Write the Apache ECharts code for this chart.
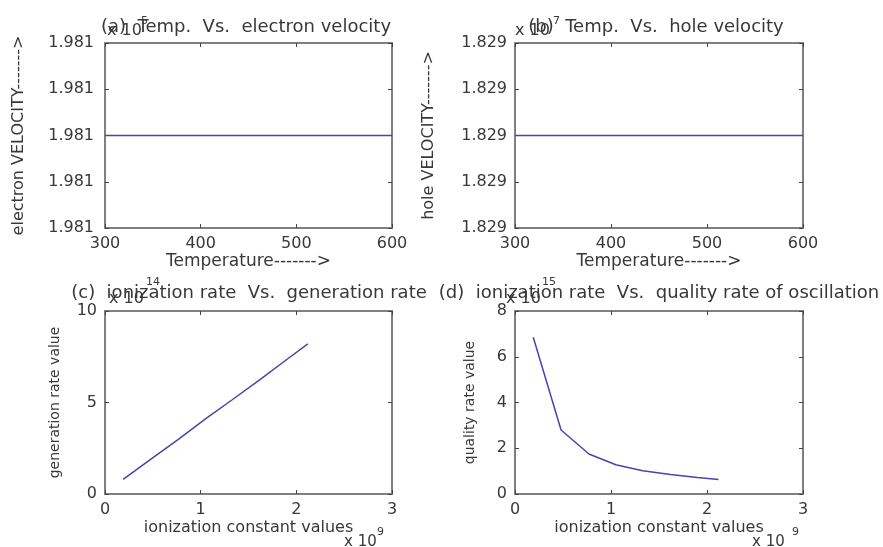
<!DOCTYPE html>
<html>
<head>
<meta charset="utf-8">
<script src="https://cdn.jsdelivr.net/npm/echarts@6/dist/echarts.min.js"></script>
<style>
  html, body { margin: 0; padding: 0; background: #fff; }
  #chart { width: 883px; height: 547px; }
</style>
</head>
<body>
<div id="chart"></div>
<script>
// (a), (b): temperature sweep, velocities in cm/s (constant)
const temperature = [300, 350, 400, 450, 500, 550, 600];
const electronVelocity = [198100, 198100, 198100, 198100, 198100, 198100, 198100];
const holeVelocity = [18290000, 18290000, 18290000, 18290000, 18290000, 18290000, 18290000];

// (c), (d): ionization constant (x10^9), generation rate (x10^14), quality rate (x10^15)
const ionizationConst = [0.19, 0.48, 0.77, 1.05, 1.33, 1.62, 1.90, 2.12];
const generationRate = [0.8, 1.9, 3.0, 4.1, 5.15, 6.25, 7.35, 8.2];
const qualityRate = [6.85, 2.8, 1.75, 1.28, 1.02, 0.85, 0.72, 0.63];

// axis ranges [min, max, interval]
const tempRange = [300, 600, 100];
const electronRange = [198098, 198102, 1];
const holeRange = [18289998, 18290002, 1];
const ionRange = [0, 3, 1];
const genRange = [0, 10, 5];
const qualRange = [0, 8, 2];

const FONT = 'DejaVu Sans';
const TXT = '#383838';
const LINE = '#4646aa';

const chart = echarts.init(document.getElementById('chart'));

function pairs(xs, ys) {
  return xs.map((x, i) => [x, ys[i]]);
}

function xAxes(grid, range, name, nameGap, nameSize) {
  const base = {
    gridIndex: grid, type: 'value',
    min: range[0], max: range[1], interval: range[2],
    axisLine: { show: true, onZero: false, lineStyle: { color: '#808080', width: 2 } },
    axisTick: { show: true, inside: true, length: 4, lineStyle: { color: '#444' } },
    splitLine: { show: false }
  };
  return [
    Object.assign({}, base, {
      position: 'bottom',
      axisLabel: { margin: 8, fontSize: 16, color: TXT, fontFamily: FONT, showMinLabel: true, showMaxLabel: true },
      name: name, nameLocation: 'middle', nameGap: nameGap,
      nameTextStyle: { fontSize: nameSize, color: TXT, fontFamily: FONT }
    }),
    Object.assign({}, base, { position: 'top', axisLabel: { show: false } })
  ];
}

function yAxes(grid, range, name, nameGap, nameSize, margin, fmt) {
  const base = {
    gridIndex: grid, type: 'value',
    min: range[0], max: range[1], interval: range[2],
    axisLine: { show: true, onZero: false, lineStyle: { color: '#808080', width: 2 } },
    axisTick: { show: true, inside: true, length: 4, lineStyle: { color: '#444' } },
    splitLine: { show: false }
  };
  return [
    Object.assign({}, base, {
      position: 'left',
      axisLabel: { margin: margin, fontSize: 16, color: TXT, fontFamily: FONT, formatter: fmt, showMinLabel: true, showMaxLabel: true },
      name: name, nameLocation: 'middle', nameGap: nameGap,
      nameTextStyle: { fontSize: nameSize, color: TXT, fontFamily: FONT }
    }),
    Object.assign({}, base, { position: 'right', axisLabel: { show: false } })
  ];
}

function label(text, x, y, size, align) {
  return {
    type: 'text', x: x, y: y, silent: true,
    style: { text: text, fill: TXT, font: size + 'px "' + FONT + '"', align: align || 'left', verticalAlign: 'middle' }
  };
}

function lineSeries(xi, yi, data) {
  return {
    type: 'line', xAxisIndex: xi, yAxisIndex: yi, data: data,
    symbol: 'none', lineStyle: { color: LINE, width: 1.5 }, animation: false
  };
}

const option = {
  backgroundColor: '#fff',
  animation: false,
  grid: [
    { left: 105, top: 43, width: 287, height: 185 },
    { left: 515, top: 43, width: 288, height: 185 },
    { left: 105, top: 311, width: 287, height: 183 },
    { left: 515, top: 311, width: 288, height: 183 }
  ],
  xAxis: [].concat(
    xAxes(0, tempRange, 'Temperature------->', 24, 17),
    xAxes(1, tempRange, 'Temperature------->', 24, 17),
    xAxes(2, ionRange, 'ionization constant values', 26, 16),
    xAxes(3, ionRange, 'ionization constant values', 26, 16)
  ),
  yAxis: [].concat(
    yAxes(0, electronRange, 'electron VELOCITY------->', 78, 16, 11, v => (v / 1e5).toFixed(3)),
    yAxes(1, holeRange, 'hole VELOCITY------->', 78, 16, 8, v => (v / 1e7).toFixed(3)),
    yAxes(2, genRange, 'generation rate value', 43, 14, 8),
    yAxes(3, qualRange, 'quality rate value', 38, 14, 8)
  ),
  series: [
    lineSeries(0, 0, pairs(temperature, electronVelocity)),
    lineSeries(2, 2, pairs(temperature, holeVelocity)),
    lineSeries(4, 4, pairs(ionizationConst, generationRate)),
    lineSeries(6, 6, pairs(ionizationConst, qualityRate))
  ],
  graphic: [
    // axis exponent labels
    label('x 10', 107, 31, 16), label('5', 141, 21, 11),
    label('x 10', 515, 31, 16), label('7', 553, 21, 11),
    label('x 10', 109, 299, 16), label('14', 146, 282, 11),
    label('x 10', 506, 299, 16), label('15', 542, 282, 11),
    label('x 10', 344, 542, 15), label('9', 377, 532, 11),
    label('x 10', 752, 542, 15), label('9', 792, 532, 11),
    // subplot titles
    label('(a)  Temp.  Vs.  electron velocity', 246, 27, 18, 'center'),
    label('(b)  Temp.  Vs.  hole velocity', 656, 27, 18, 'center'),
    label('(c)  ionization rate  Vs.  generation rate', 249, 293, 18, 'center'),
    label('(d)  ionization rate  Vs.  quality rate of oscillation', 659, 293, 18, 'center')
  ]
};

chart.setOption(option);
</script>
</body>
</html>
